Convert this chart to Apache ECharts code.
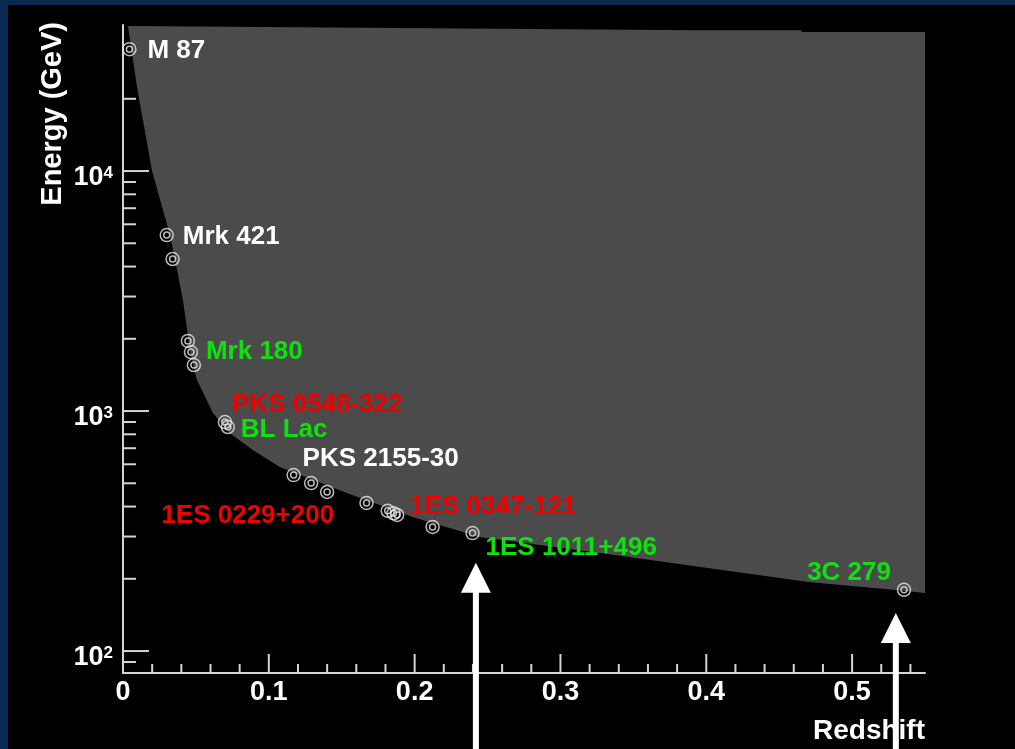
<!DOCTYPE html>
<html>
<head>
<meta charset="utf-8">
<script src="https://cdn.jsdelivr.net/npm/echarts@6/dist/echarts.min.js"></script>
<style>
  html, body { margin: 0; padding: 0; background: #0b2a52; }
  #chart { width: 1015px; height: 749px; }
</style>
</head>
<body>
<div id="chart"></div>
<script>
// ---- Source markers: redshift and highest detected energy (GeV) ----
const srcZ = [0.0044, 0.030, 0.034, 0.0445, 0.0466, 0.0486, 0.0699, 0.0719,
              0.117, 0.129, 0.140, 0.167, 0.1815, 0.1855, 0.188, 0.2123, 0.2397, 0.5356];
const srcE = [32200, 5410, 4300, 1960, 1760, 1555, 900, 858,
              541, 501, 460, 414, 384, 375, 369, 329, 310, 180];

// ---- Source names ----
const labelNames  = ['M 87', 'Mrk 421', 'Mrk 180', 'PKS 0548-322', 'BL Lac', 'PKS 2155-30',
                     '1ES 0229+200', '1ES 0347-121', '1ES 1011+496', '3C 279'];
const labelColors = ['#ffffff', '#ffffff', '#10e010', '#f00000', '#10e010', '#ffffff',
                     '#f00000', '#f00000', '#10e010', '#10e010'];
const labelSource = [0, 1, 4, 6, 7, 8, 10, 14, 16, 17];   // marker each name belongs to

// ---- Gray region: lower edge (horizon curve) and upper edge ----
const edgeLowZ = [0.0034, 0.0096, 0.0199, 0.0322, 0.0356, 0.0411, 0.0459, 0.0507, 0.0575,
                  0.0616, 0.0733, 0.089, 0.1075, 0.1534, 0.1986, 0.2445, 0.337, 0.47, 0.532, 0.55];
const edgeLowE = [40200, 22400, 10000, 5410, 4300, 2900, 1795, 1346, 1110,
                  981, 809, 688, 584, 455, 362, 299, 251, 194, 179, 174.5];
const edgeTopZ = [0.0034, 0.395, 0.465, 0.4655, 0.55];
const edgeTopE = [40200, 38650, 38650, 37950, 37950];

// ---- Arrows: redshift and energy of the arrow tip ----
const arrowZ = [0.242, 0.530];
const arrowE = [233, 144];

// ---- Axes ----
const X_MIN = 0, X_MAX = 0.55;
const Y_MIN = 81, Y_MAX = 40600;
const xTickLabels = ['0', '0.1', '0.2', '0.3', '0.4', '0.5'];
const yTickExps = [2, 3, 4];
const xMajorTicks = [0.1, 0.2, 0.3, 0.4, 0.5];
const xMinorTicks = [0.02, 0.04, 0.06, 0.08, 0.12, 0.14, 0.16, 0.18, 0.22, 0.24, 0.26, 0.28,
                     0.32, 0.34, 0.36, 0.38, 0.42, 0.44, 0.46, 0.48, 0.52, 0.54];
const yMajorTicks = [100, 1000, 10000];
const yMinorTicks = [90, 200, 300, 400, 500, 600, 700, 800, 900,
                     2000, 3000, 4000, 5000, 6000, 7000, 8000, 9000, 20000];

// layout of each name relative to its marker: [dx, dy, align]
const labelLayout = [[18, 2, 'left'], [16, 2, 'left'], [15, 0, 'left'], [7, -17, 'left'],
                     [13, 3, 'left'], [9, -16, 'left'], [7, 24, 'right'], [13, -8, 'left'],
                     [13, 15, 'left'], [-13, -17, 'right']];

const FONT = '"Liberation Sans", Arial, Helvetica, sans-serif';
const AXIS_COLOR = '#d4d4d4';

const chart = echarts.init(document.getElementById('chart'), null, { renderer: 'canvas' });

function tickSeries(values, horizontalAxis, len) {
  return {
    type: 'custom',
    silent: true,
    z: 5,
    clip: false,
    data: values.map(v => horizontalAxis ? [v, Y_MIN] : [X_MIN, v]),
    renderItem: function (params, api) {
      const p = api.coord([api.value(0), api.value(1)]);
      const shape = horizontalAxis
        ? { x1: p[0], y1: p[1], x2: p[0], y2: p[1] - len }
        : { x1: p[0], y1: p[1], x2: p[0] + len, y2: p[1] };
      return { type: 'line', shape: shape, style: { stroke: AXIS_COLOR, lineWidth: 2 } };
    }
  };
}

const markerData = srcZ.map((z, i) => [z, srcE[i]]);

const option = {
  backgroundColor: '#0b2a52',
  animation: false,
  grid: { left: 123, right: 90, top: 25, bottom: 76, containLabel: false },
  graphic: [
    { type: 'rect', z: -10, silent: true, shape: { x: 8, y: 5, width: 1015, height: 749 }, style: { fill: '#000000' } },
    { type: 'text', z: 10, silent: true, x: 925, y: 731,
      style: { text: 'Redshift', fill: '#ffffff', font: 'bold 28px ' + FONT, align: 'right', verticalAlign: 'middle' } },
    { type: 'text', z: 10, silent: true, x: 53, y: 22, rotation: Math.PI / 2,
      style: { text: 'Energy (GeV)', fill: '#ffffff', font: 'bold 29px ' + FONT, align: 'right', verticalAlign: 'middle' } }
  ],
  xAxis: {
    type: 'value',
    min: X_MIN, max: X_MAX, interval: 0.1,
    axisLine: { show: true, onZero: false, lineStyle: { color: AXIS_COLOR, width: 2 } },
    axisTick: { show: false },
    splitLine: { show: false },
    axisLabel: {
      color: '#ffffff', fontWeight: 'bold', fontSize: 27, fontFamily: FONT, margin: 6,
      formatter: function (v) {
        const k = Math.round(v * 10);
        return Math.abs(v * 10 - k) < 1e-6 && k < xTickLabels.length ? xTickLabels[k] : '';
      }
    }
  },
  yAxis: {
    type: 'log', logBase: 10,
    min: Y_MIN, max: Y_MAX,
    axisLine: { show: true, lineStyle: { color: AXIS_COLOR, width: 2 } },
    axisTick: { show: false },
    splitLine: { show: false },
    minorTick: { show: false },
    axisLabel: {
      margin: 10,
      padding: [14, 0, 0, 0],
      formatter: function (v) {
        const l = Math.log10(v);
        const k = Math.round(l);
        if (Math.abs(l - k) > 1e-6 || yTickExps.indexOf(k) < 0) return '';
        return '{b|10}{s|' + k + '}';
      },
      rich: {
        b: { color: '#ffffff', fontWeight: 'bold', fontSize: 27, fontFamily: FONT, verticalAlign: 'bottom' },
        s: { color: '#ffffff', fontWeight: 'bold', fontSize: 17, fontFamily: FONT, verticalAlign: 'top' }
      }
    }
  },
  series: [
    // gray region between the horizon curve and the upper edge
    {
      type: 'custom',
      silent: true,
      z: 1,
      clip: false,
      data: [[0.2, 1000]],
      renderItem: function (params, api) {
        const pts = [];
        for (let i = 0; i < edgeLowZ.length; i++) pts.push(api.coord([edgeLowZ[i], edgeLowE[i]]));
        for (let i = edgeTopZ.length - 1; i >= 0; i--) pts.push(api.coord([edgeTopZ[i], edgeTopE[i]]));
        return { type: 'polygon', shape: { points: pts }, style: { fill: '#4b4b4b' } };
      }
    },
    tickSeries(xMajorTicks, true, 19),
    tickSeries(xMinorTicks, true, 9),
    tickSeries(yMajorTicks, false, 26),
    tickSeries(yMinorTicks, false, 13),
    // outer ring of the markers
    {
      type: 'scatter', z: 6, silent: true,
      data: markerData,
      symbol: 'circle', symbolSize: 13,
      itemStyle: { color: 'rgba(0,0,0,0)', borderColor: '#e8e8e8', borderWidth: 1.5 }
    },
    // inner ring of the markers
    {
      type: 'scatter', z: 6, silent: true,
      data: markerData,
      symbol: 'circle', symbolSize: 6,
      itemStyle: { color: 'rgba(0,0,0,0)', borderColor: '#e8e8e8', borderWidth: 1.5 }
    },
    // source names
    {
      type: 'custom', z: 7, silent: true, clip: false,
      data: labelSource.map(i => [srcZ[i], srcE[i]]),
      renderItem: function (params, api) {
        const i = params.dataIndex;
        const p = api.coord([api.value(0), api.value(1)]);
        const lay = labelLayout[i];
        return {
          type: 'text',
          x: p[0] + lay[0], y: p[1] + lay[1],
          style: {
            text: labelNames[i], fill: labelColors[i],
            font: 'bold 26px ' + FONT, align: lay[2], verticalAlign: 'middle'
          }
        };
      }
    },
    // white arrows pointing up at the sources
    {
      type: 'custom', z: 8, silent: true, clip: false,
      data: arrowZ.map((z, i) => [z, arrowE[i]]),
      renderItem: function (params, api) {
        const tip = api.coord([api.value(0), api.value(1)]);
        const bottom = api.getHeight();
        return {
          type: 'group',
          children: [
            { type: 'polygon', shape: { points: [[tip[0], tip[1]], [tip[0] - 15, tip[1] + 30], [tip[0] + 15, tip[1] + 30]] },
              style: { fill: '#ffffff' } },
            { type: 'rect', shape: { x: tip[0] - 3, y: tip[1] + 28, width: 6, height: bottom - tip[1] - 28 },
              style: { fill: '#ffffff' } }
          ]
        };
      }
    }
  ]
};

chart.setOption(option);
</script>
</body>
</html>
